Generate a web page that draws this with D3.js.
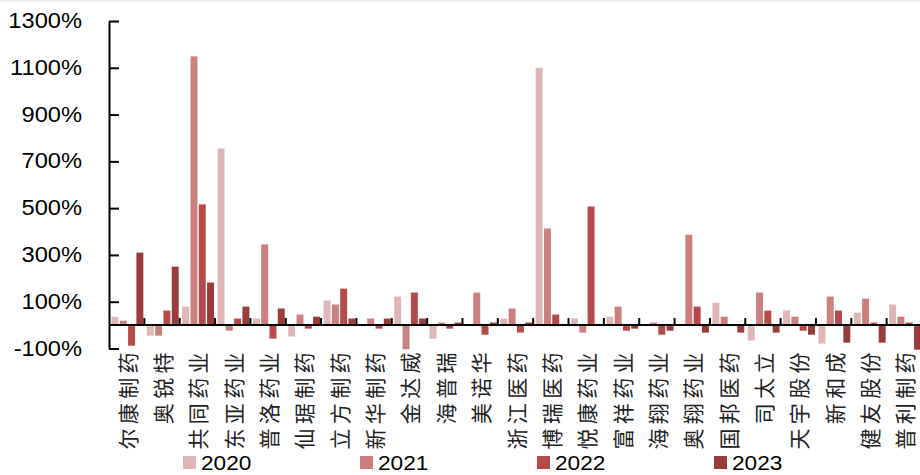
<!DOCTYPE html>
<html>
<head>
<meta charset="utf-8">
<script src="https://cdn.jsdelivr.net/npm/d3@7/dist/d3.min.js"></script>
<style>
  html, body { margin: 0; padding: 0; background: #fff; }
  svg { display: block; }
</style>
</head>
<body>
<svg id="chart" width="920" height="475"></svg>
<script>
// ---- data ----
const categories = ["尔康制药","奥锐特","共同药业","东亚药业","普洛药业","仙琚制药","立方制药","新华制药","金达威","海普瑞","美诺华","浙江医药","博瑞医药","悦康药业","富祥药业","海翔药业","奥翔药业","国邦医药","司太立","天宇股份","新和成","健友股份","普利制药"];
const years = ["2020","2021","2022","2023"];
const v2020 = [36, -45, 79, 755, 28, -49, 105, 2, 122, -58, 3, 28, 1100, 28, 36, 0, 0, 96, -66, 62, -79, 53, 88];
const v2021 = [19, -45, 1149, -24, 345, 45, 88, 28, -103, 11, 139, 71, 413, -32, 79, 11, 386, 36, 139, 36, 122, 113, 36];
const v2022 = [-88, 62, 516, 28, -58, -15, 156, -15, 139, -15, -41, -32, 45, 507, -24, -41, 79, 2, 62, -24, 62, 11, 11];
const v2023 = [310, 250, 182, 79, 71, 36, 28, 28, 28, 11, 11, 11, 0, 0, -15, -24, -32, -32, -32, -41, -75, -75, -105];
const yTicks = [-100, 100, 300, 500, 700, 900, 1100, 1300];

const seriesValues = [v2020, v2021, v2022, v2023];
const colors = ["#DFB6B6", "#CC7F7F", "#B44B4A", "#9A3C3C"];

const svg = d3.select("#chart");

// faint top border
svg.append("rect").attr("x", 0).attr("y", 0).attr("width", 920).attr("height", 2).attr("fill", "#efefef");

const x0 = d3.scaleBand().domain(categories).range([109, 922]).padding(0);
const x1 = d3.scaleBand().domain(years).range([2.5, x0.bandwidth() - 1]).paddingInner(0.16).paddingOuter(0);
const y = d3.scaleLinear().domain([-100, 1300]).range([348.5, 21]);

// bars
const groups = svg.append("g").selectAll("g")
  .data(categories)
  .join("g")
  .attr("transform", d => `translate(${x0(d)},0)`);

groups.selectAll("rect")
  .data((c, i) => years.map((yr, j) => ({ yr, j, v: seriesValues[j][i] })))
  .join("rect")
  .attr("x", d => x1(d.yr))
  .attr("width", x1.bandwidth())
  .attr("y", d => y(Math.max(0, d.v)))
  .attr("height", d => Math.abs(y(d.v) - y(0)))
  .attr("fill", d => colors[d.j]);

// y axis
const yAxis = d3.axisLeft(y).tickValues(yTicks).tickSizeInner(-10).tickSizeOuter(0).tickFormat(() => "");
const gy = svg.append("g").attr("transform", "translate(109,0)").call(yAxis);
gy.select(".domain").attr("stroke", "#000").attr("stroke-width", 2);
gy.selectAll(".tick line").attr("stroke", "#000").attr("stroke-width", 2);

// y labels (slightly wide glyphs)
svg.append("g").selectAll("text")
  .data(yTicks)
  .join("text")
  .attr("transform", d => `translate(82,${y(d)}) scale(1.1,1)`)
  .attr("text-anchor", "end")
  .attr("dominant-baseline", "central")
  .attr("font-family", "'Liberation Sans', Arial, sans-serif")
  .attr("font-size", 21.5)
  .attr("fill", "#000")
  .text(d => d + "%");

// zero baseline
svg.append("line")
  .attr("x1", x0.range()[0]).attr("x2", x0.range()[1])
  .attr("y1", y(0)).attr("y2", y(0))
  .attr("stroke", "#000").attr("stroke-width", 2);

// category boundary ticks (upward)
svg.append("g").selectAll("line")
  .data(categories)
  .join("line")
  .attr("x1", d => x0(d) + x0.bandwidth())
  .attr("x2", d => x0(d) + x0.bandwidth())
  .attr("y1", y(0))
  .attr("y2", y(0) - 7)
  .attr("stroke", "#000").attr("stroke-width", 2);

// category labels (rotated)
svg.append("g").selectAll("text")
  .data(categories)
  .join("text")
  .attr("transform", d => `translate(${x0(d) + x0.bandwidth() / 2},348) rotate(-90)`)
  .attr("text-anchor", "end")
  .attr("dominant-baseline", "central")
  .attr("font-family", "'Noto Sans CJK SC', sans-serif")
  .attr("font-size", 21)
  .attr("letter-spacing", 4.4)
  .attr("fill", "#222")
  .text(d => d);

// legend
const legendX = [183, 360, 537, 714];
const lg = svg.append("g").selectAll("g")
  .data(years)
  .join("g")
  .attr("transform", (d, i) => `translate(${legendX[i]},456)`);
lg.append("rect").attr("x", 0).attr("y", 0).attr("width", 13).attr("height", 13)
  .attr("fill", (d, i) => colors[i]);
lg.append("text")
  .attr("transform", "translate(18,6.5) scale(1.08,1)")
  .attr("dominant-baseline", "central")
  .attr("font-family", "'Liberation Sans', Arial, sans-serif")
  .attr("font-size", 21)
  .attr("fill", "#000")
  .text(d => d);
</script>
</body>
</html>
